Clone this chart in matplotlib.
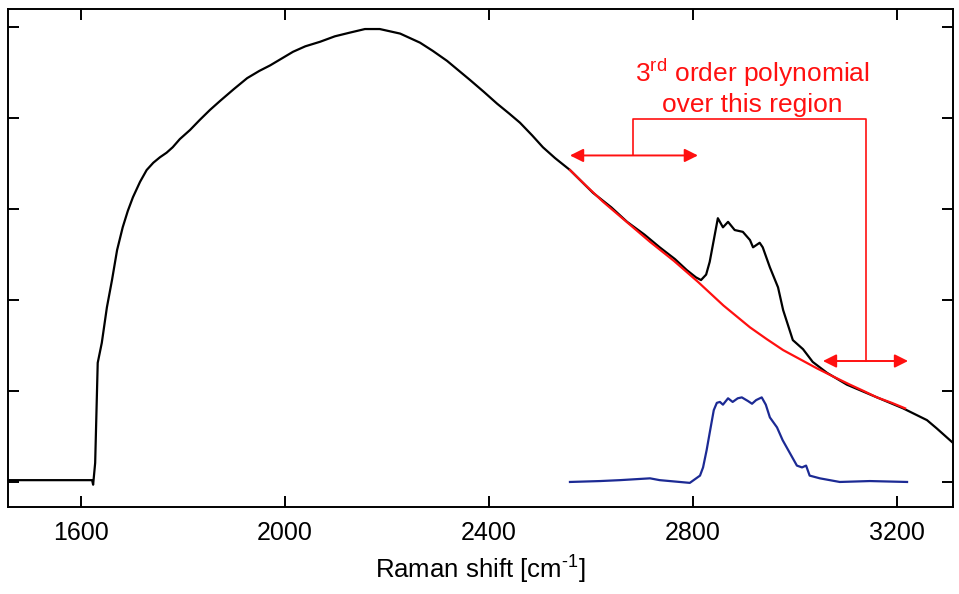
import matplotlib
matplotlib.use("Agg")
import matplotlib.pyplot as plt

plt.rcParams["font.family"] = ["Liberation Sans", "DejaVu Sans"]
plt.rcParams["axes.unicode_minus"] = False

# measured spectrum (black)
raw_x = [1457, 1622, 1624, 1628, 1633, 1641, 1651, 1661, 1671, 1682, 1692,
         1702, 1716, 1729, 1742, 1755, 1768, 1780, 1794, 1814, 1833, 1853,
         1873, 1900, 1926, 1950, 1971, 1995, 2016, 2040, 2069, 2098, 2127,
         2157, 2186, 2226, 2265, 2290, 2318, 2363, 2390, 2416, 2440, 2461,
         2485, 2506, 2530, 2559, 2604, 2640, 2671, 2705, 2735, 2765, 2788,
         2806, 2816, 2826, 2833, 2841, 2849, 2859, 2869, 2882, 2898, 2912,
         2918, 2931, 2937, 2951, 2967, 2977, 2996, 3016, 3035, 3063, 3102,
         3161, 3212, 3259, 3278, 3310]
raw_y = [0.02, 0.02, -0.03, 0.21, 1.31, 1.53, 1.92, 2.22, 2.55, 2.80, 2.98,
         3.13, 3.30, 3.43, 3.51, 3.57, 3.62, 3.68, 3.77, 3.87, 3.98, 4.09,
         4.19, 4.32, 4.44, 4.52, 4.58, 4.66, 4.73, 4.79, 4.84, 4.90, 4.94,
         4.98, 4.98, 4.93, 4.83, 4.74, 4.63, 4.42, 4.29, 4.16, 4.05, 3.95,
         3.81, 3.68, 3.56, 3.43, 3.18, 3.02, 2.86, 2.72, 2.58, 2.45, 2.33,
         2.25, 2.22, 2.28, 2.42, 2.66, 2.90, 2.80, 2.86, 2.77, 2.75, 2.66,
         2.58, 2.63, 2.58, 2.36, 2.14, 1.89, 1.56, 1.46, 1.32, 1.20, 1.07,
         0.93, 0.81, 0.68, 0.59, 0.43]

# polynomial background (red)
fit_x = [2559, 2590, 2624, 2670, 2716, 2763, 2810, 2860, 2912, 2945, 2977,
         3010, 3043, 3075, 3108, 3135, 3161, 3190, 3216]
fit_y = [3.43, 3.26, 3.08, 2.86, 2.64, 2.43, 2.20, 1.94, 1.70, 1.57, 1.45,
         1.35, 1.25, 1.16, 1.07, 1.00, 0.93, 0.87, 0.81]

# background-subtracted band (blue)
sub_x = [2559, 2618, 2657, 2716, 2735, 2794, 2814, 2820, 2827, 2833, 2841,
         2847, 2853, 2859, 2869, 2878, 2888, 2896, 2908, 2916, 2924, 2935,
         2943, 2951, 2965, 2976, 2990, 3004, 3014, 3022, 3029, 3049, 3088,
         3147, 3220]
sub_y = [0.00, 0.01, 0.02, 0.04, 0.02, -0.01, 0.07, 0.16, 0.35, 0.54, 0.79,
         0.87, 0.88, 0.85, 0.92, 0.88, 0.92, 0.93, 0.89, 0.86, 0.90, 0.93,
         0.85, 0.71, 0.60, 0.46, 0.32, 0.18, 0.16, 0.18, 0.07, 0.04, 0.00,
         0.01, 0.00]

xticks = [1600, 2000, 2400, 2800, 3200]
yticks = [0, 1, 2, 3, 4, 5]

# fit region markers
left_arrow = (2559, 2810, 3.59)
right_arrow = (3055, 3222, 1.33)
bracket_x = [2682, 2682, 3139, 3139]
bracket_y = [3.59, 3.99, 3.99, 1.33]

fig = plt.figure(figsize=(9.59, 5.94), dpi=100)
ax = fig.add_axes([0.0083, 0.1465, 0.9854, 0.8383])

red = "#ff1010"
ax.plot(raw_x, raw_y, color="black", lw=1.6)
ax.plot(fit_x, fit_y, color=red, lw=1.6)
ax.plot(sub_x, sub_y, color="#1c2a94", lw=1.6)

for x0, x1, y in [left_arrow, right_arrow]:
    ax.annotate("", xy=(x1, y), xytext=(x0, y),
                arrowprops=dict(arrowstyle="<|-|>", color=red, lw=1.4,
                                mutation_scale=20, shrinkA=0, shrinkB=0))
ax.plot(bracket_x, bracket_y, color=red, lw=1.2)

ax.text(2916, 4.40, "3$^{\\mathregular{rd}}$ order polynomial", color=red,
        fontsize=19, ha="center", va="baseline")
ax.text(2916, 4.07, "over this region", color=red,
        fontsize=19, ha="center", va="baseline")

ax.set_xlim(1457, 3310)
ax.set_ylim(-0.275, 5.2)
ax.set_xticks(xticks)
ax.set_yticks(yticks)
ax.set_yticklabels([])
ax.tick_params(direction="in", length=8, width=1.4, top=True, right=True,
               labelsize=18, pad=10)
for s in ax.spines.values():
    s.set_linewidth(1.4)
ax.set_xlabel("Raman shift [cm$^{\\mathregular{\u2010 1}}$]", fontsize=18.5,
              labelpad=5)

fig.savefig("out.png", dpi=100)
